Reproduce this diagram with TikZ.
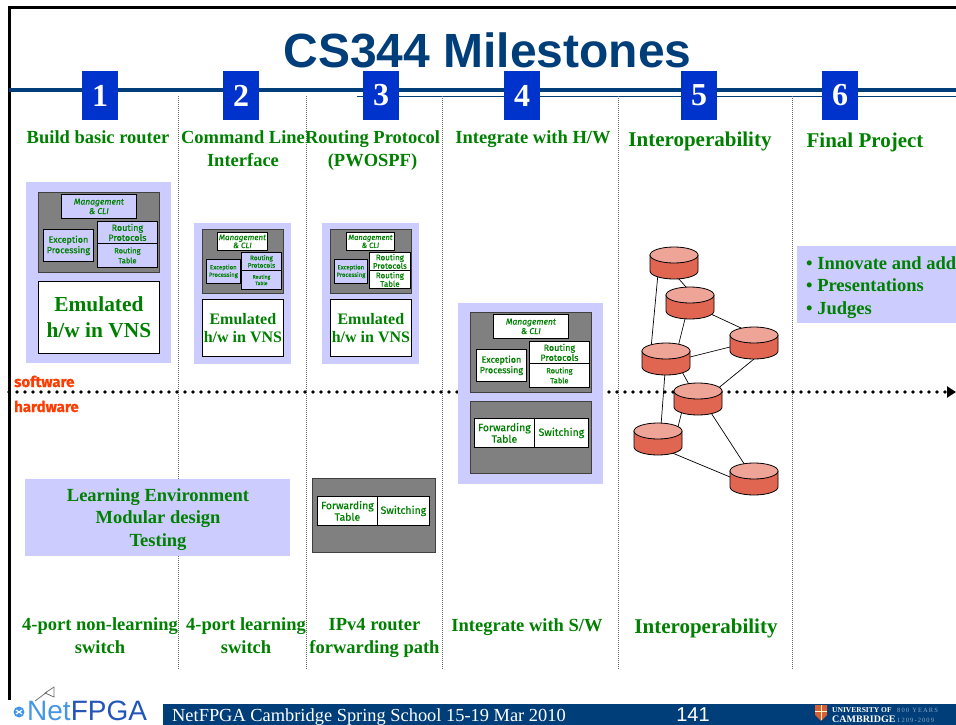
\documentclass[tikz,border=0pt]{standalone}
\usepackage{fontspec}
\setmainfont{Liberation Serif}
\newfontfamily\titlesans{Liberation Sans}
\newfontfamily\boxsans[FakeBold=0.6]{Fira Sans}
\usetikzlibrary{arrows.meta,calc}

\definecolor{titleblue}{RGB}{0,62,122}
\definecolor{numblue}{RGB}{0,51,204}
\definecolor{mgreen}{RGB}{0,128,0}
\definecolor{lav}{RGB}{204,204,255}
\definecolor{boxgray}{RGB}{128,128,128}
\definecolor{swred}{RGB}{255,60,0}
\definecolor{cylbody}{RGB}{224,102,82}
\definecolor{cyltop}{RGB}{238,165,152}
\definecolor{netlight}{RGB}{70,150,230}
\definecolor{netdark}{RGB}{35,85,185}
\definecolor{shieldred}{RGB}{214,96,52}

\newcommand\smalllbl[2]{\boxsans\fontsize{#1}{#2}\selectfont}

\tikzset{
  hd/.style={text=mgreen, font=\bfseries\fontsize{18.5}{22.5}\selectfont, align=center, inner sep=0pt, anchor=base},
  hdbig/.style={hd, font=\bfseries\fontsize{21}{25}\selectfont},
  numbox/.style={fill=numblue, text=white, minimum width=36pt, minimum height=49pt, inner sep=0pt,
    font=\bfseries\fontsize{32}{32}\selectfont},
  panel/.style={fill=lav, inner sep=0pt, anchor=north west},
  graybox/.style={fill=boxgray, draw=black!75, line width=0.9pt, inner sep=0pt, anchor=north west},
  part/.style={draw=black, line width=0.8pt, inner sep=0pt, anchor=north west, align=center, text=mgreen},
  wpart/.style={part, fill=white},
  lpart/.style={part, fill=lav},
  emu/.style={wpart, font=\bfseries\fontsize{21.4}{26}\selectfont},
  emus/.style={wpart, font=\bfseries\fontsize{16}{18}\selectfont},
  divider/.style={draw=black!60, line width=0.8pt, dash pattern=on 1pt off 1pt},
  swlab/.style={text=swred, font=\boxsans\bfseries\fontsize{15}{16}\selectfont, inner sep=0pt, anchor=base west},
  link/.style={draw=black, line width=0.7pt},
  dbcyl/.pic={
    \path[draw=black, line width=0.8pt, fill=cylbody]
      (-24pt,8pt) -- (-24pt,-8pt) arc[start angle=180, end angle=360, x radius=24pt, y radius=8pt]
      -- (24pt,8pt) -- cycle;
    \path[draw=black, line width=0.8pt, fill=cyltop] (0pt,8pt) ellipse [x radius=24pt, y radius=8pt];
  }
}

\begin{document}
\begin{tikzpicture}[x=1pt, y=-1pt]
\useasboundingbox[fill=white] (0,0) rectangle (956,725);

% frame
\draw[black, line width=3pt] (9,700) -- (9,8) -- (956,8);

% title
\node[font=\titlesans\bfseries\fontsize{48}{48}\selectfont, text=titleblue, inner sep=0pt, anchor=base]
  (title) at (487.5,68) {CS344 Milestones};

% timeline rules
\draw[titleblue, line width=4pt] (9,90) -- (956,90);
\draw[titleblue, line width=1pt] (357,96) -- (956,96);

% column dividers
\foreach \xx in {178,306,442,618,792}
  \draw[divider] (\xx,96) -- (\xx,670);

% software / hardware boundary
\coordinate (bstart) at (9,392);
\coordinate (bend) at (956,392);
\draw[line width=3.6pt, line cap=round, dash pattern=on 0pt off 8pt,
  -{Triangle[length=9pt, width=11pt]}] (bstart) -- (bend);
\node[swlab] (sw) at (14,387) {software};
\node[swlab] (hw) at (14,412) {hardware};

% milestone numbers
\foreach \nn/\xx in {1/100,2/241,3/381,4/522,5/699,6/840}
  \node[numbox] (num\nn) at (\xx,95.5) {\nn};

% headings (multi-line nodes sit on the baseline of their last line)
\node[hd] (h1) at (98,143) {Build basic router};
\node[hd] (h2) at (243,166) {Command Line\\Interface};
\node[hd] (h3) at (372.5,166) {Routing Protocol\\(PWOSPF)};
\node[hd] (h4) at (533,143) {Integrate with H/W};
\node[hdbig] (h5) at (700,146) {Interoperability};
\node[hdbig] (h6) at (865,147) {Final Project};

% column 1
\node[panel, minimum width=145pt, minimum height=181pt] (p1) at (26,182) {};
\node[graybox, minimum width=121pt, minimum height=80pt] (g1) at (38,192) {};
\node[lpart, minimum width=75pt, minimum height=24pt, font={\smalllbl{8.5}{9.5}\itshape}] (m1) at (61,194) {Management\\\& CLI};
\node[lpart, minimum width=50pt, minimum height=32pt, font={\smalllbl{9}{10.5}}] (e1) at (43,229) {Exception\\Processing};
\node[lpart, minimum width=60pt, minimum height=22pt, font={\smalllbl{9}{10}}] (rp1) at (97,221) {Routing\\Protocols};
\node[lpart, minimum width=60pt, minimum height=24pt, font={\smalllbl{7.5}{10}}] (rt1) at (97,243) {Routing\\Table};
\node[emu, minimum width=121pt, minimum height=72pt] (v1) at (38,281) {Emulated\\h/w in VNS};

% column 2
\node[panel, minimum width=97pt, minimum height=141pt] (p2) at (194,223) {};
\node[graybox, minimum width=81pt, minimum height=64pt] (g2) at (202,229) {};
\node[wpart, minimum width=50pt, minimum height=18pt, font={\smalllbl{8}{8}\itshape}] (m2) at (217,232) {Management\\\& CLI};
\node[lpart, minimum width=34pt, minimum height=24pt, font={\smalllbl{6}{7.5}}] (e2) at (206,259) {Exception\\Processing};
\node[lpart, minimum width=40pt, minimum height=18pt, font={\smalllbl{6.5}{7.5}}] (rp2) at (241,252) {Routing\\Protocols};
\node[lpart, minimum width=40pt, minimum height=19pt, font={\smalllbl{5}{6.5}}] (rt2) at (241,270) {Routing\\Table};
\node[emus, minimum width=81pt, minimum height=57pt] (v2) at (202,299) {Emulated\\h/w in VNS};

% column 3
\node[panel, minimum width=97pt, minimum height=141pt] (p3) at (322,223) {};
\node[graybox, minimum width=81pt, minimum height=64pt] (g3) at (330,229) {};
\node[wpart, minimum width=48pt, minimum height=18pt, font={\smalllbl{7.5}{8}\itshape}] (m3) at (346,232) {Management\\\& CLI};
\node[lpart, minimum width=33pt, minimum height=24pt, font={\smalllbl{6}{7.5}}] (e3) at (334,259) {Exception\\Processing};
\node[wpart, minimum width=41pt, minimum height=18pt, font={\smalllbl{8}{8.5}}] (rp3) at (369,252) {Routing\\Protocols};
\node[wpart, minimum width=41pt, minimum height=18pt, font={\smalllbl{8}{8.5}}] (rt3) at (369,270) {Routing\\Table};
\node[emus, minimum width=81pt, minimum height=57pt] (v3) at (330,299) {Emulated\\h/w in VNS};
\node[graybox, minimum width=123pt, minimum height=74pt] (g3b) at (312,478) {};
\node[wpart, minimum width=60pt, minimum height=29pt, font={\smalllbl{10.5}{11.5}}] (f3) at (317,496) {Forwarding\\Table};
\node[wpart, minimum width=52pt, minimum height=29pt, font={\smalllbl{10.5}{11.5}}] (s3) at (377,496) {Switching};

% column 4
\node[panel, minimum width=145pt, minimum height=181pt] (p4) at (458,303) {};
\node[graybox, minimum width=121pt, minimum height=80pt] (g4) at (470,312) {};
\node[wpart, minimum width=75pt, minimum height=24pt, font={\smalllbl{8.5}{9.5}\itshape}] (m4) at (493,314) {Management\\\& CLI};
\node[wpart, minimum width=50pt, minimum height=32pt, font={\smalllbl{9}{10.5}}] (e4) at (476,349) {Exception\\Processing};
\node[wpart, minimum width=60pt, minimum height=22pt, font={\smalllbl{9}{10}}] (rp4) at (529,341) {Routing\\Protocols};
\node[wpart, minimum width=60pt, minimum height=24pt, font={\smalllbl{7.5}{10}}] (rt4) at (529,363) {Routing\\Table};
\node[graybox, minimum width=121pt, minimum height=72pt] (g4b) at (470,401) {};
\node[wpart, minimum width=60pt, minimum height=29pt, font={\smalllbl{10.5}{11.5}}] (f4) at (474,418) {Forwarding\\Table};
\node[wpart, minimum width=54pt, minimum height=29pt, font={\smalllbl{10.5}{11.5}}] (s4) at (534,418) {Switching};

% learning environment
\node[panel, minimum width=265pt, minimum height=77pt] (le) at (25,479) {};
\node[hd] (letext) at (158,546) {Learning Environment\\Modular design\\Testing};

% final project
\node[panel, minimum width=159pt, minimum height=77pt] (fp) at (797,246) {};
\node[hd, align=left, anchor=base west] (fptext) at (806,314) {• Innovate and add\\• Presentations\\• Judges};

% interoperability network
\coordinate (n1) at (674,263);
\coordinate (n2) at (690,303);
\coordinate (n3) at (754,343);
\coordinate (n4) at (666,359);
\coordinate (n5) at (698,399);
\coordinate (n6) at (658,439);
\coordinate (n7) at (754,479);
\draw[link] ($(n1)+(-3,7)$) -- ($(n2)+(3,-8)$);
\draw[link] ($(n1)+(-15,0)$) -- ($(n4)+(-16,0)$);
\draw[link] ($(n2)+(10,6)$) -- ($(n3)+(0,-9)$);
\draw[link] ($(n2)+(-1,0)$) -- ($(n4)+(9,0)$);
\draw[link] ($(n4)+(0,4)$) -- ($(n3)+(0,-2)$);
\draw[link] ($(n4)+(9,0)$) -- ($(n5)+(-1,0)$);
\draw[link] ($(n3)+(11,7)$) -- ($(n5)+(7,0)$);
\draw[link] (n4) -- ($(n6)+(2,0)$);
\draw[link] ($(n5)+(-13,0)$) -- ($(n6)+(17,0)$);
\draw[link] ($(n5)+(4,0)$) -- (n7);
\draw[link] ($(n6)+(0,8)$) -- ($(n7)+(0,8)$);
\foreach \cc in {n1,n2,n3,n4,n5,n6,n7}
  \pic at (\cc) {dbcyl};

% outcomes
\node[hd] (o1) at (100,653) {4-port non-learning\\switch};
\node[hd] (o2) at (246,653) {4-port learning\\switch};
\node[hd] (o3) at (374.5,653) {IPv4 router\\forwarding path};
\node[hd] (o4) at (527,631) {Integrate with S/W};
\node[hdbig] (o5) at (706,633) {Interoperability};

% footer
\fill[titleblue] (163,704) rectangle (956,725);
\node[text=white, font=\fontsize{18.4}{18.4}\selectfont, inner sep=0pt, anchor=base west]
  (ftext) at (172,721) {NetFPGA Cambridge Spring School 15-19 Mar 2010};
\node[text=white, font=\titlesans\fontsize{20}{20}\selectfont, inner sep=0pt, anchor=base]
  (page) at (693,721) {141};

% NetFPGA logo
\node[fill=netlight, circle, minimum size=11pt, inner sep=0pt] (logodot) at (19,712) {};
\draw[white, line width=1.2pt] ($(logodot)+(-3,-2)$) -- ($(logodot)+(3,2)$)
  ($(logodot)+(-3,2)$) -- ($(logodot)+(3,-2)$);
\draw[black!55, line width=0.8pt] (35,701) -- (47,692);
\draw[black!55, line width=0.8pt] (45,693) -- (54,687) -- (54,697) -- cycle;
\node[font=\titlesans\fontsize{28}{28}\selectfont, inner sep=0pt, anchor=base west]
  (logo) at (27,720) {\textcolor{netlight}{Net}\textcolor{netdark}{FPGA}};

% university crest and name
\fill[shieldred] (815,705) -- (827,705) -- (827,715) -- (821,721) -- (815,715) -- cycle;
\draw[white!80!yellow, line width=1pt] (821,705) -- (821,720) (815,711) -- (827,711);
\node[text=white, font=\bfseries\fontsize{7.5}{7.5}\selectfont, inner sep=0pt, anchor=base west]
  (uni1) at (832,712) {UNIVERSITY OF};
\node[text=white, font=\bfseries\fontsize{10}{10}\selectfont, inner sep=0pt, anchor=base west]
  (uni2) at (832,722) {CAMBRIDGE};
\node[text=titleblue!45!white, font=\fontsize{6.5}{6.5}\selectfont, inner sep=0pt, anchor=base west]
  (uni3) at (897,712) {8\,0\,0\ \ Y\,E\,A\,R\,S};
\node[text=titleblue!45!white, font=\fontsize{6.5}{6.5}\selectfont, inner sep=0pt, anchor=base west]
  (uni4) at (897,722) {1\,2\,0\,9\,-\,2\,0\,0\,9};
\end{tikzpicture}
\end{document}
